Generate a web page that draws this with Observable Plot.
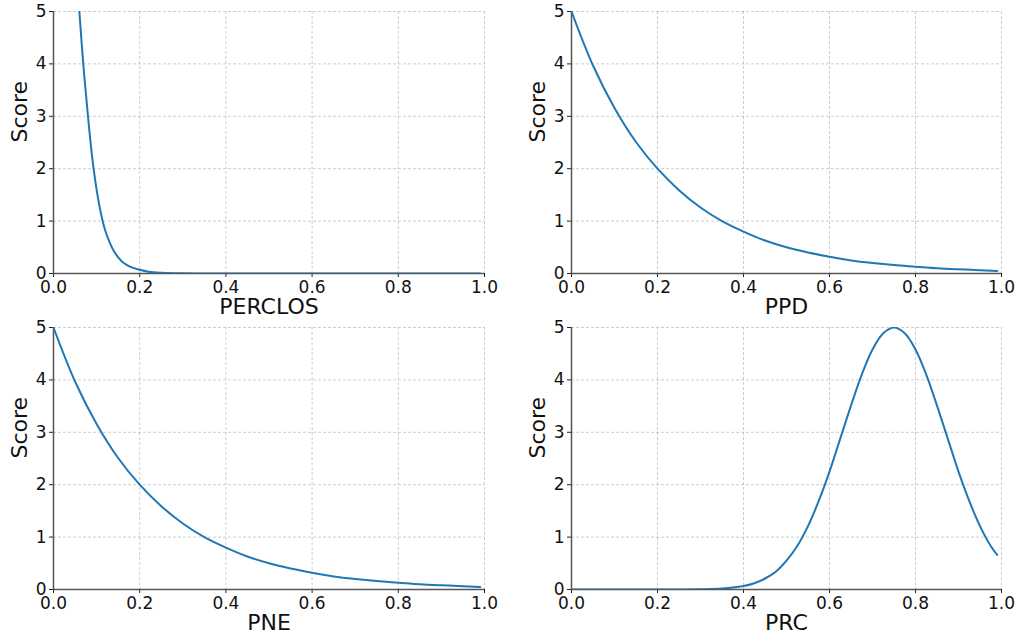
<!DOCTYPE html>
<html>
<head>
<meta charset="utf-8">
<script src="https://cdn.jsdelivr.net/npm/d3@7"></script>
<script src="https://cdn.jsdelivr.net/npm/@observablehq/plot@0.6"></script>
<style>
  body { margin: 0; background: white; }
  #wrap { position: relative; width: 1019px; height: 643px; background: white; }
</style>
</head>
<body>
<div id="wrap"></div>
<script>
// Shared x positions for the decay curves
const xGrid = [0, 0.05, 0.10, 0.15, 0.20, 0.25, 0.30, 0.35, 0.40, 0.45, 0.50,
               0.55, 0.60, 0.65, 0.70, 0.75, 0.80, 0.85, 0.90, 0.95, 0.99];

// PERCLOS (steep decay, starts at top of axis)
const perclosX = [0.06, 0.07, 0.08, 0.09, 0.10, 0.11, 0.12, 0.13, 0.14, 0.15, 0.16,
                  0.18, 0.20, 0.22, 0.25, 0.30, 0.35, 0.40, 0.50, 0.60, 0.70, 0.80, 0.90, 0.99];
const perclosY = [5.0, 3.9, 3.0, 2.2, 1.6, 1.15, 0.82, 0.6, 0.43, 0.31, 0.22,
                  0.12, 0.07, 0.035, 0.015, 0.003, 0.001, 0, 0, 0, 0, 0, 0, 0];

// PPD
const ppdY = [5.0, 3.97, 3.16, 2.51, 2.0, 1.59, 1.26, 1.0, 0.80, 0.63, 0.50,
              0.40, 0.32, 0.25, 0.20, 0.16, 0.13, 0.10, 0.08, 0.064, 0.05];

// PNE
const pneY = [5.0, 3.97, 3.16, 2.51, 2.0, 1.59, 1.26, 1.0, 0.80, 0.63, 0.50,
              0.40, 0.32, 0.25, 0.20, 0.16, 0.13, 0.10, 0.08, 0.064, 0.05];

// PRC (bell shaped, peak at 0.75)
const prcX = [0, 0.1, 0.2, 0.25, 0.30, 0.35, 0.40, 0.425, 0.45, 0.475, 0.50, 0.525, 0.55, 0.575,
              0.60, 0.625, 0.65, 0.675, 0.70, 0.725, 0.75, 0.775, 0.80, 0.825, 0.85,
              0.875, 0.90, 0.925, 0.95, 0.975, 0.99];
const prcY = [0, 0, 0, 0.001, 0.004, 0.017, 0.065, 0.12, 0.21, 0.34, 0.55, 0.83, 1.21, 1.69,
              2.25, 2.88, 3.51, 4.10, 4.58, 4.89, 5.0, 4.89, 4.58, 4.10, 3.51,
              2.88, 2.25, 1.69, 1.21, 0.83, 0.66];

const xTicks = [0, 0.2, 0.4, 0.6, 0.8, 1.0];
const yTicks = [0, 1, 2, 3, 4, 5];
const xGridLines = [0.2, 0.4, 0.6, 0.8, 1.0];
const yGridLines = [1, 2, 3, 4, 5];

const panels = [
  {label: "PERCLOS", xs: perclosX, ys: perclosY, left: 0,   top: 0,   mL: 53, mR: 26},
  {label: "PPD",     xs: xGrid,    ys: ppdY,     left: 509, top: 0,   mL: 62, mR: 18},
  {label: "PNE",     xs: xGrid,    ys: pneY,     left: 0,   top: 316, mL: 53, mR: 26},
  {label: "PRC",     xs: prcX,     ys: prcY,     left: 509, top: 316, mL: 62, mR: 18}
];

const wrap = document.getElementById("wrap");
for (const p of panels) {
  const data = p.xs.map((x, i) => ({x, y: p.ys[i]}));
  const chart = Plot.plot({
    width: 510,
    height: 321,
    marginLeft: p.mL,
    marginRight: p.mR,
    marginTop: 11,
    marginBottom: 48,
    style: {fontFamily: "DejaVu Sans", fontSize: "17px", background: "white", color: "#111", overflow: "visible"},
    x: {domain: [0, 1]},
    y: {domain: [0, 5]},
    marks: [
      Plot.gridX(xGridLines, {stroke: "#b0b0b0", strokeOpacity: 0.8, strokeDasharray: "3,2", strokeWidth: 0.8}),
      Plot.gridY(yGridLines, {stroke: "#b0b0b0", strokeOpacity: 0.8, strokeDasharray: "3,2", strokeWidth: 0.8}),
      Plot.axisX({ticks: xTicks, tickFormat: d => d.toFixed(1), tickSize: 4, tickPadding: 3, fontSize: 17, label: null, stroke: "#222"}),
      Plot.axisY({ticks: yTicks, tickFormat: d => String(d), tickSize: 4, tickPadding: 3, fontSize: 17, label: null, stroke: "#222"}),
      Plot.ruleY([0], {stroke: "#555", strokeWidth: 1.5}),
      Plot.ruleX([0], {stroke: "#555", strokeWidth: 1.5}),
      Plot.line(data, {x: "x", y: "y", stroke: "#1f77b4", strokeWidth: 2, curve: "catmull-rom", clip: true}),
      Plot.text([p.label], {frameAnchor: "bottom", dy: 40, fontSize: 22, fill: "#111"}),
      Plot.text(["Score"], {frameAnchor: "left", dx: -34, rotate: -90, fontSize: 22, fill: "#111"})
    ]
  });
  chart.style.position = "absolute";
  chart.style.left = p.left + "px";
  chart.style.top = p.top + "px";
  wrap.appendChild(chart);
}
</script>
</body>
</html>
